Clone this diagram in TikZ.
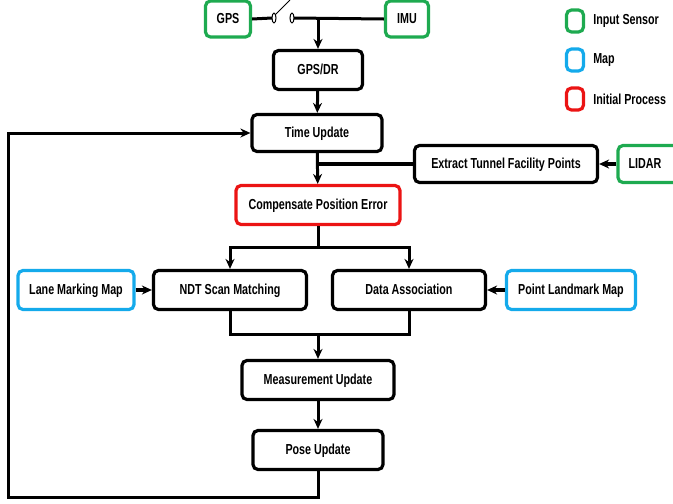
\documentclass[tikz,border=0pt]{standalone}
\usepackage{fontspec}
\setmainfont{Liberation Sans}[FakeStretch=0.74]
\usetikzlibrary{positioning,calc,arrows.meta}
\definecolor{sensgreen}{RGB}{30,170,80}
\definecolor{mapblue}{RGB}{20,170,235}
\definecolor{initred}{RGB}{235,20,20}
\tikzset{
	%Style of the boxes
	procbox/.style = {rectangle, rounded corners=5pt, draw=black,
                           line width=3.2pt, font=\fontsize{14.5}{16}\selectfont\bfseries,
                           text height=10.5pt, text depth=2.5pt,
                           text centered, inner sep=0pt},
	sensbox/.style = {procbox, draw=sensgreen},
	mapbox/.style  = {procbox, draw=mapblue},
	initbox/.style = {procbox, draw=initred},
	lgtext/.style  = {font=\fontsize{14.5}{16}\selectfont\bfseries, inner sep=0pt},
	wire/.style    = {line width=3pt, line join=miter},
	arr/.style     = {wire, -{Stealth[length=10pt,width=9pt]}}
}
\begin{document}
\begin{tikzpicture}[x=1pt, y=-1pt]
    	\useasboundingbox (0,0) rectangle (673,504);
    	%nodes
    	\node[sensbox, minimum width=45, minimum height=36] (gps)  at (228, 19) {GPS};
    	\node[sensbox, minimum width=43, minimum height=36] (imu)  at (407, 19) {IMU};
    	\node[procbox, minimum width=89, minimum height=39] (gpsdr) at (318, 70) {GPS/DR};
    	\node[procbox, minimum width=130, minimum height=37] (time) at (317, 133) {Time Update};
    	\node[procbox, minimum width=183, minimum height=37] (extract) at (506, 164) {Extract Tunnel Facility Points};
    	\node[sensbox, minimum width=60, minimum height=37] (lidar) at (648, 164) {\hspace*{-6pt}LIDAR};
    	\node[initbox, minimum width=164, minimum height=39] (comp) at (318, 205) {Compensate Position Error};
    	\node[mapbox, minimum width=116, minimum height=39] (lane) at (76, 290) {Lane Marking Map};
    	\node[procbox, minimum width=153, minimum height=39] (ndt)  at (230, 290) {NDT Scan Matching};
    	\node[procbox, minimum width=153, minimum height=39] (da)   at (409, 290) {Data Association};
    	\node[mapbox, minimum width=129, minimum height=39] (point) at (571, 290) {Point Landmark Map};
    	\node[procbox, minimum width=152, minimum height=39] (meas) at (318, 380) {Measurement Update};
    	\node[procbox, minimum width=130, minimum height=39] (pose) at (318, 450) {Pose Update};
    	%legend
    	\node[sensbox, minimum width=17, minimum height=22] (lgsens) at (575, 21) {};
    	\node[mapbox,  minimum width=17, minimum height=22] (lgmap)  at (575, 60) {};
    	\node[initbox, minimum width=17, minimum height=22] (lginit) at (575, 99) {};
    	\node[lgtext, right=8pt of lgsens] (lgsenstxt) {Input Sensor};
    	\node[lgtext, right=8pt of lgmap]  (lgmaptxt)  {Map};
    	\node[lgtext, right=8pt of lginit] (lginittxt) {Initial Process};
    	%switch
    	\coordinate (swa) at (274, 18);
    	\coordinate (swb) at (292, 18);
    	\coordinate (top) at (318, 18);
    	\draw[wire] (gps.east) -- ($(swa)+(-2,0)$);
    	\draw[line width=1pt] (swa) ellipse (2 and 5);
    	\draw[line width=1pt] (swb) ellipse (2 and 5);
    	\draw[line width=1pt] ($(swa)+(1,-3)$) -- (290, 0);
    	\draw[wire] ($(swb)+(2,0)$) -- (imu.west);
    	%arrows
    	\draw[arr] (top) -- (gpsdr);
    	\draw[arr] (gpsdr) -- (time);
    	\draw[arr] (time) -- (comp);
    	\draw[wire, line width=3.6pt] (extract.west) -- (time.south |- extract.west);
    	\draw[arr, line width=3.6pt] (lidar) -- (extract);
    	\coordinate (split) at (318, 247);
    	\draw[wire] (comp) -- (split);
    	\draw[arr] (split) -| (ndt);
    	\draw[arr] (split) -| (da);
    	\draw[arr, line width=3.6pt] (lane) -- (ndt);
    	\draw[arr, line width=3.6pt] (point) -- (da);
    	\coordinate (merge) at (318, 334);
    	\draw[wire] (ndt) |- (merge) -| (da);
    	\draw[arr] (merge) -- (meas);
    	\draw[arr] (meas) -- (pose);
    	\draw[arr] (pose) |- (8, 497) |- (time);

    \end{tikzpicture}
\end{document}
